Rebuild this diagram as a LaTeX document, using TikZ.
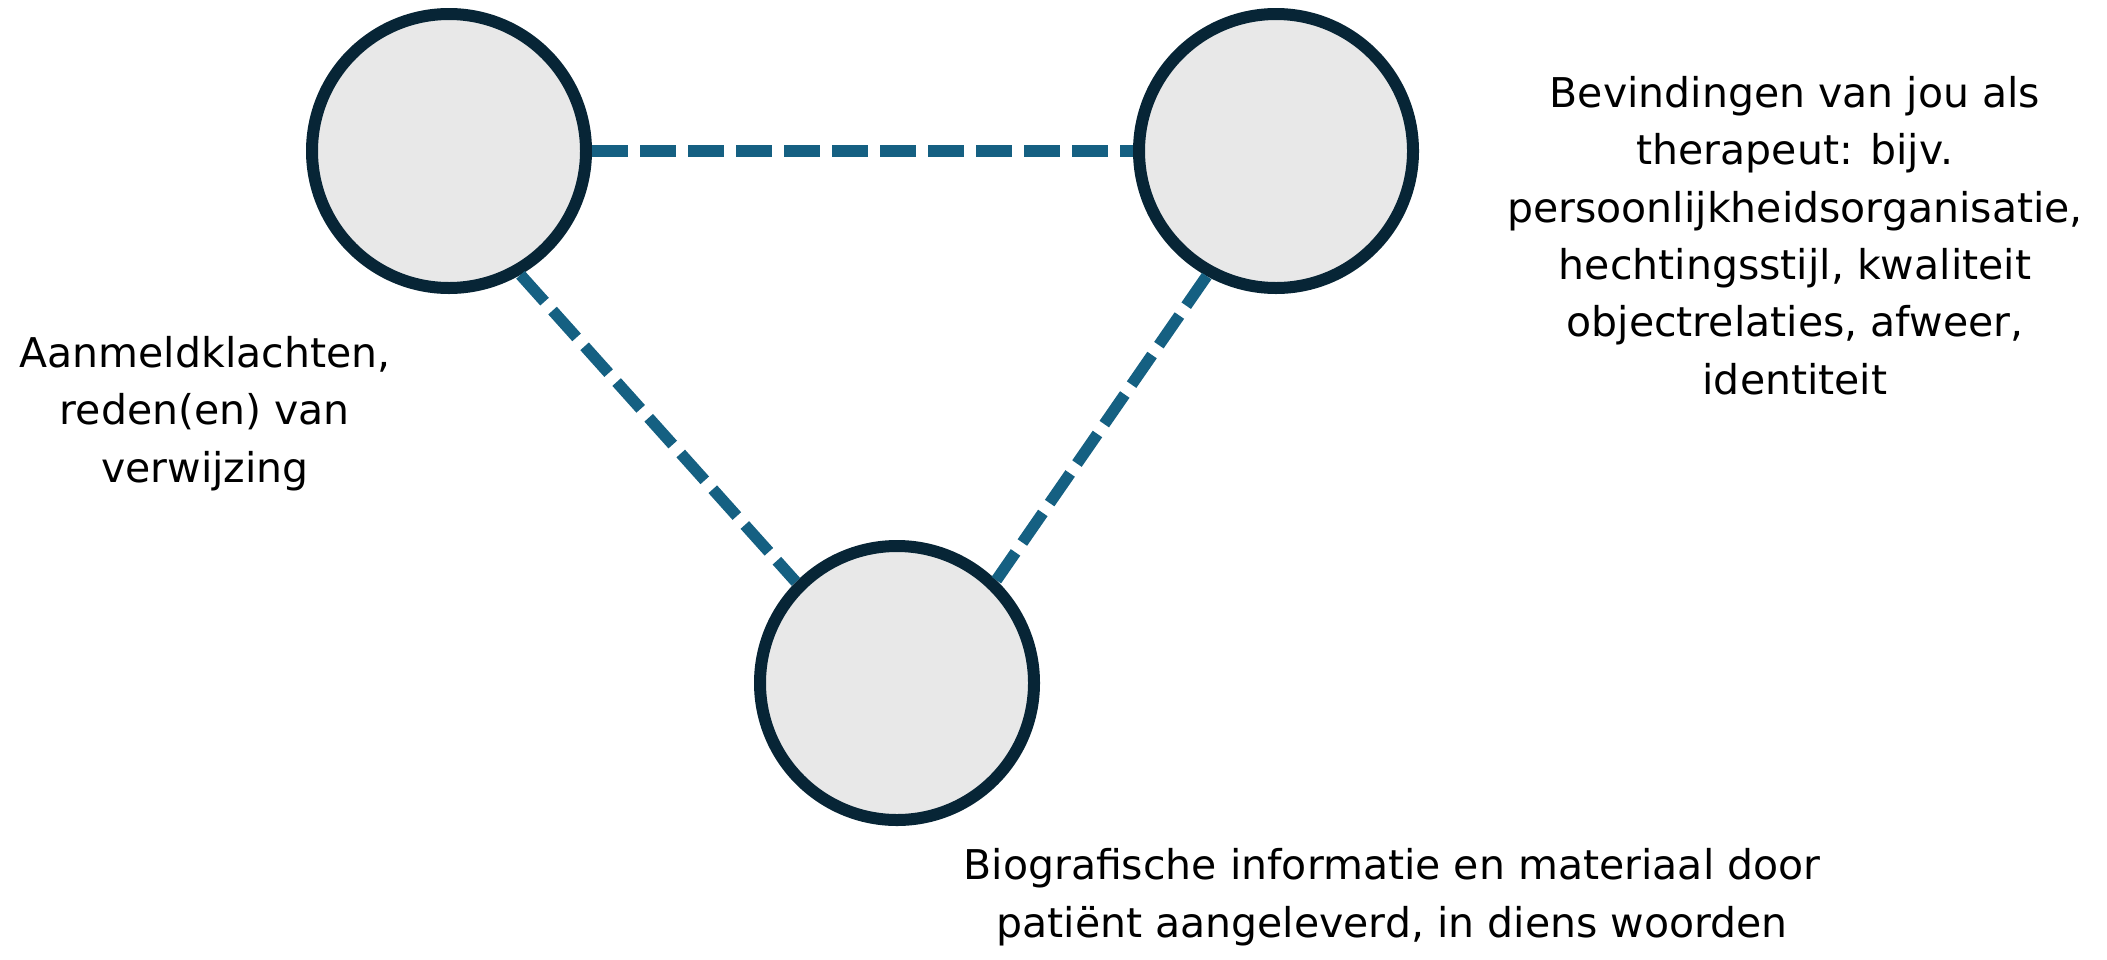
\documentclass[tikz,border=0pt]{standalone}
\usepackage{fontspec}
\setmainfont{DejaVu Sans}
\usepackage{tikz}
\usetikzlibrary{positioning}
\definecolor{bolrand}{HTML}{072536}
\definecolor{bolvulling}{HTML}{E8E8E8}
\definecolor{verbandkleur}{HTML}{156082}
\tikzset{
    bol/.style={circle, draw=bolrand, fill=bolvulling, line width=6pt, minimum size=137pt, inner sep=0pt},
    verband/.style={draw=verbandkleur, line width=5.75pt, dash pattern=on 18pt off 6pt},
    uitleg/.style={align=center, anchor=base, inner sep=0pt, font=\fontsize{20.5}{28.65}\selectfont}
}

\begin{document}
\begin{tikzpicture}[x=0.5pt, y=-0.5pt]
    \useasboundingbox (0,0) rectangle (2107,959);
    % de drie bollen
    \node[bol] (klacht) at (449,151) {};
    \node[bol] (therapeut) at (1276,151) {};
    \node[bol] (patient) at (897,683) {};
    % verbindingen
    \draw[verband] (klacht.east) -- (therapeut.west);
    \draw[verband] (klacht.-60) -- (patient.135);
    \draw[verband] (therapeut.-119) -- (patient.46);
    % teksten (anker op de onderste regel)
    \node[uitleg] (klachttekst) at (205,482) {Aanmeldklachten,\\reden(en) van\\verwijzing};
    \node[uitleg] (therapeuttekst) at (1795,394) {Bevindingen van jou als\\therapeut: bijv.\\persoonlijkheidsorganisatie,\\hechtingsstijl, kwaliteit\\objectrelaties, afweer,\\identiteit};
    \node[uitleg] (patienttekst) at (1392,937) {Biografische informatie en materiaal door\\patiënt aangeleverd, in diens woorden};
\end{tikzpicture}
\end{document}
